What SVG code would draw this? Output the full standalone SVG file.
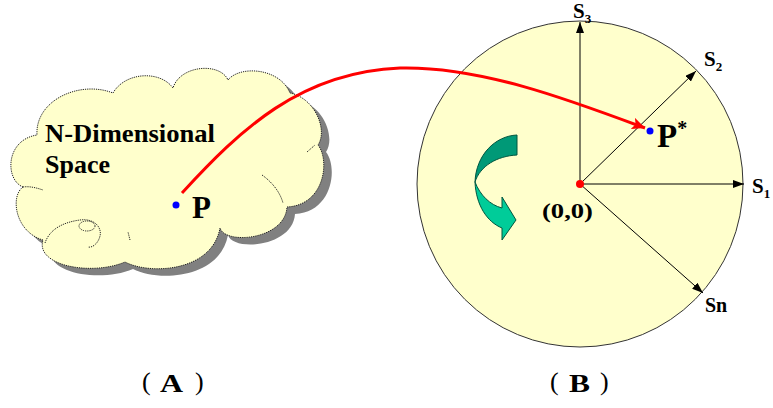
<svg xmlns="http://www.w3.org/2000/svg" width="773" height="408" viewBox="0 0 773 408">
<style>
text{font-family:'Liberation Serif','Times New Roman',Times,serif}
.lbl{font-weight:bold;fill:#000}
.thin{font-weight:normal;fill:#000}
.axis{stroke:#000;stroke-width:1;fill:none}
.cloud{fill:#FFFFCC;stroke:#222;stroke-width:1;stroke-dasharray:1.2,1}
.inner{fill:none;stroke:#222;stroke-width:1;stroke-dasharray:1.2,1}
</style>
<defs>
<marker id="ah" markerUnits="userSpaceOnUse" markerWidth="11" markerHeight="8" refX="11" refY="4" orient="auto">
<path d="M0,0 L11,4 L0,8 Z" fill="#000"/>
</marker>
<marker id="rah" markerUnits="userSpaceOnUse" markerWidth="14" markerHeight="12" refX="13" refY="6" orient="auto">
<path d="M0,0 L13,6 L0,12 L3,6 Z" fill="#FF0000"/>
</marker>
<path id="cloudShape" d="M23,187 C5,180 5,140 37,135 C35,100 80,80 113,93 C125,72 160,70 173,88 C180,65 220,62 228,80 C240,65 280,68 290,93 C315,98 328,130 318,145 C330,160 325,205 287,207 C285,240 225,245 220,228 C212,272 150,275 125,262 C92,276 35,266 43,240 C15,232 10,196 23,187 Z"/>
</defs>

<g id="cloud">
<use href="#cloudShape" transform="translate(8,7)" fill="#808080"/>
<use href="#cloudShape" class="cloud"/>
<path class="inner" d="M262,175 C272,182 280,192 283,203"/>
<path class="inner" d="M307,152 L315,145"/>
<path class="inner" d="M130,240 L128,232"/>
<path class="inner" d="M23,187 C30,186 37,188 43,190"/>
<path class="inner" d="M45,243 C50,228 65,222 80,220 C95,218 102,228 100,236 C98,244 92,248 88,247"/>
<ellipse class="inner" cx="87" cy="226" rx="8" ry="5"/>
<text class="lbl" x="45" y="142" font-size="25" textLength="170" lengthAdjust="spacingAndGlyphs">N-Dimensional</text>
<text class="lbl" x="45" y="173" font-size="25" textLength="65" lengthAdjust="spacingAndGlyphs">Space</text>
</g>

<g id="pointP">
<circle cx="176" cy="205" r="3.5" fill="#0000FF"/>
<text class="lbl" x="192" y="218" font-size="31">P</text>
</g>

<g id="sphere">
<circle cx="580" cy="184" r="163" fill="#FFFFCC" stroke="#333" stroke-width="1"/>
</g>

<g id="rotation">
<path d="M517,135 C495,136 476,155 475,182 C480,166 497,156 517,155 Z" fill="#009977" stroke="#00553f" stroke-width="1"/>
<path d="M475,182 C476,205 487,222 502,228 L502,240 L516,220 L502,197 L502,208 C490,205 480,195 475,182 Z" fill="#00CC99" stroke="#00553f" stroke-width="1"/>
</g>

<g id="connectors">
<line class="axis" x1="580" y1="184" x2="580" y2="22" marker-end="url(#ah)"/>
<line class="axis" x1="580" y1="184" x2="696" y2="71" marker-end="url(#ah)"/>
<line class="axis" x1="580" y1="184" x2="744" y2="184" marker-end="url(#ah)"/>
<line class="axis" x1="580" y1="184" x2="703" y2="293" marker-end="url(#ah)"/>
<path d="M182,193 C240,130 300,72 400,68 C480,66 570,100 645,128" fill="none" stroke="#FF0000" stroke-width="3" marker-end="url(#rah)"/>
</g>

<g id="origin">
<circle cx="580" cy="184" r="4" fill="#FF0000"/>
<text class="lbl" x="542" y="218" font-size="21" textLength="51" lengthAdjust="spacingAndGlyphs">(0,0)</text>
</g>

<g id="pointPstar">
<circle cx="650" cy="131" r="3.5" fill="#0000FF"/>
<text class="lbl" x="657" y="147" font-size="33">P<tspan font-size="20" dy="-12">*</tspan></text>
</g>

<g id="axisLabels">
<text class="lbl" x="573" y="18" font-size="21">S<tspan font-size="13" dy="5">3</tspan></text>
<text class="lbl" x="704" y="66" font-size="21">S<tspan font-size="13" dy="5">2</tspan></text>
<text class="lbl" x="752" y="193" font-size="21">S<tspan font-size="13" dy="5">1</tspan></text>
<text class="lbl" x="705" y="312" font-size="20">Sn</text>
</g>

<g id="captions">
<text class="thin" x="142" y="390" font-size="26">(</text>
<text class="lbl" x="160" y="392" font-size="25" textLength="23" lengthAdjust="spacingAndGlyphs">A</text>
<text class="thin" x="195" y="390" font-size="26">)</text>
<text class="thin" x="550" y="390" font-size="26">(</text>
<text class="lbl" x="569" y="392" font-size="25" textLength="21" lengthAdjust="spacingAndGlyphs">B</text>
<text class="thin" x="600" y="390" font-size="26">)</text>
</g>
</svg>
